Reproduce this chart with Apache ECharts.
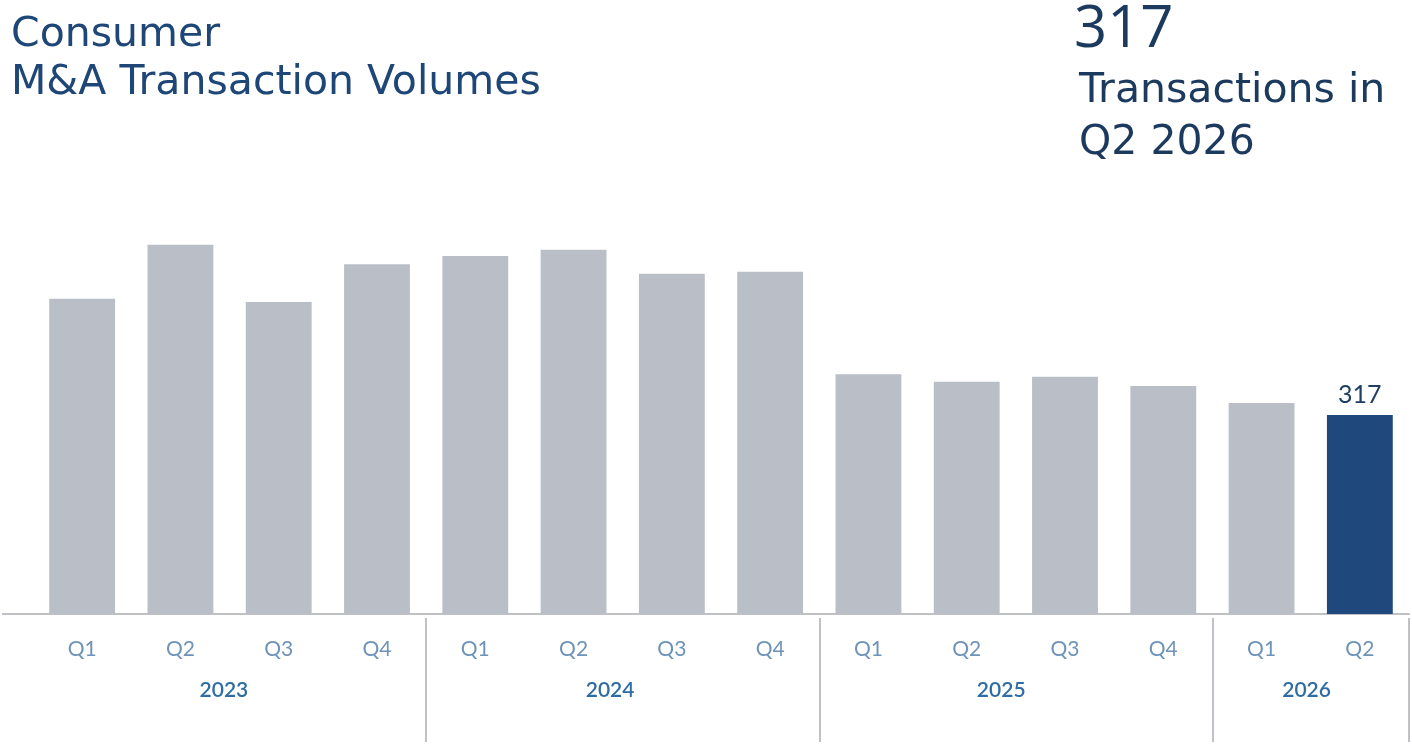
<!DOCTYPE html>
<html>
<head>
<meta charset="utf-8">
<title>Consumer M&amp;A Transaction Volumes</title>
<script src="https://cdn.jsdelivr.net/npm/echarts@6/dist/echarts.min.js"></script>
<style>
  html, body { margin: 0; padding: 0; background: #fff; }
  #chart { width: 1412px; height: 744px; }
</style>
</head>
<body>
<div id="chart"></div>
<script>
  // quarterly deal counts, 2023 Q1 .. 2026 Q2
  const quarters = ["Q1", "Q2", "Q3", "Q4", "Q1", "Q2", "Q3", "Q4", "Q1", "Q2", "Q3", "Q4", "Q1", "Q2"];
  const years = ["2023", "2023", "2023", "2023", "2024", "2024", "2024", "2024", "2025", "2025", "2025", "2025", "2026", "2026"];
  const volumes = [502, 588, 497, 557, 570, 580, 542, 545, 382, 370, 378, 363, 336, 317];

  const grey = "#babec6";
  const navy = "#1f497d";
  const titleColor = "#1e4676";
  const axisGrey = "#bfc1c6";

  // where the year text sits (with a nudge to the right) and where the separators go
  const yearLabelIdx = [1, 5, 9, 12];
  const yearNudge = [87, 73, 69, 90];
  const yearBreakIdx = [4, 8, 12];

  const last = volumes.length - 1;
  const barData = volumes.map((v, i) => {
    if (i !== last) return v;
    return {
      value: v,
      itemStyle: { color: navy },
      label: {
        show: true,
        position: "top",
        distance: 8,
        color: "#1f3f63",
        fontSize: 25,
        fontFamily: "Lato"
      }
    };
  });

  const yearRich = {};
  yearNudge.forEach((p, k) => {
    yearRich["y" + k] = {
      color: "#2e6da4",
      fontFamily: "Lato",
      fontSize: 21,
      fontWeight: 600,
      padding: [0, 0, 0, p]
    };
  });

  const myChart = echarts.init(document.getElementById("chart"));
  const option = {
    animation: false,
    title: [{
      text: "Consumer\nM&A Transaction Volumes",
      left: 6,
      top: 6,
      textStyle: {
        color: titleColor,
        fontFamily: "DejaVu Sans",
        fontWeight: "normal",
        fontSize: 41,
        lineHeight: 48
      }
    }, {
      text: "317",
      left: 1069,
      top: -6,
      textStyle: {
        color: "#1b3a5e",
        fontFamily: "Open Sans",
        fontWeight: "normal",
        fontSize: 58,
        lineHeight: 62
      }
    }, {
      text: "Transactions in\nQ2 2026",
      left: 1074,
      top: 60,
      textStyle: {
        color: "#1b3a5e",
        fontFamily: "DejaVu Sans",
        fontWeight: "normal",
        fontSize: 41,
        lineHeight: 52
      }
    }],
    // the baseline runs a little past the first bar on the left
    graphic: [{
      type: "line",
      shape: { x1: 2, y1: 614, x2: 34, y2: 614 },
      style: { stroke: axisGrey, lineWidth: 2 },
      silent: true
    }],
    grid: {
      left: 33,
      right: 3,
      top: 174.5,
      bottom: 130
    },
    xAxis: [{
      type: "category",
      data: quarters,
      position: "bottom",
      axisLine: { lineStyle: { color: axisGrey, width: 2 } },
      axisTick: { show: false },
      axisLabel: {
        color: "#6e93b8",
        fontFamily: "Lato",
        fontSize: 21,
        margin: 25
      }
    }, {
      type: "category",
      data: years,
      position: "bottom",
      offset: 4,
      axisLine: { show: false },
      axisTick: {
        show: true,
        length: 124,
        interval: (idx) => yearBreakIdx.indexOf(idx) >= 0,
        lineStyle: { color: axisGrey, width: 2 }
      },
      axisLabel: {
        interval: (idx) => yearLabelIdx.indexOf(idx) >= 0,
        formatter: (val, idx) => {
          const k = yearLabelIdx.indexOf(idx);
          return k >= 0 ? "{y" + k + "|" + val + "}" : "";
        },
        rich: yearRich,
        margin: 62
      }
    }],
    yAxis: {
      type: "value",
      min: 0,
      max: 700,
      show: false,
      splitLine: { show: false }
    },
    series: [{
      type: "bar",
      xAxisIndex: 0,
      data: barData,
      barWidth: "67%",
      itemStyle: { color: grey },
      silent: true
    }]
  };
  myChart.setOption(option);
</script>
</body>
</html>
